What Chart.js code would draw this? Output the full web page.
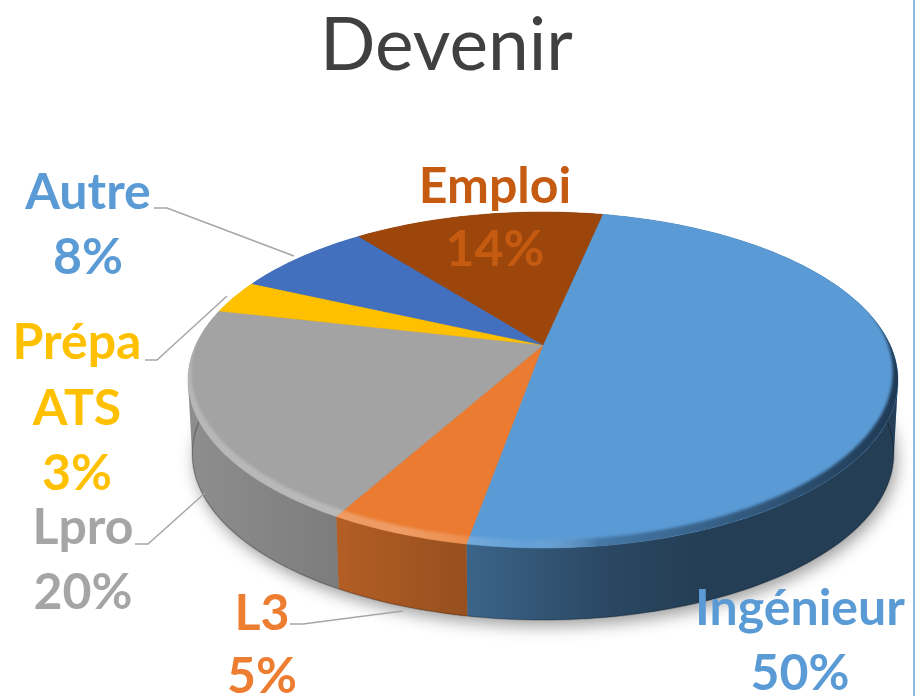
<!DOCTYPE html>
<html>
<head>
<meta charset="utf-8">
<title>Devenir</title>
<script src="https://cdn.jsdelivr.net/npm/chart.js@4"></script>
<style>
  html, body { margin: 0; padding: 0; background: #fff; }
  canvas { display: block; }
</style>
</head>
<body>
<canvas id="myChart" width="915" height="696"></canvas>
<script>
const titleText = 'Devenir'
const categories = ['Ingénieur', 'L3', 'Lpro', 'Prépa ATS', 'Autre', 'Emploi']
const shares = [49.5, 5.3, 20.45, 3.25, 7.6, 13.9]

const sliceColors = ['#5b9bd5', '#ea7b30', '#a3a3a3', '#ffc000', '#4270bf', '#9c460c']
const labelColors = ['#5b9bd5', '#ed7d31', '#a5a5a5', '#ffc000', '#5b9bd5', '#c55a11']

// where the data labels sit: centre x + one baseline per text line
const labelSpots = [
  { x: 800, lines: [625, 690] },
  { x: 262, lines: [630, 693] },
  { x: 83, lines: [544, 609] },
  { x: 77, lines: [359, 425, 490] },
  { x: 88, lines: [209, 274] },
  { x: 495, lines: [203, 266] }
]
const leaderLines = [
  [[154, 208], [167, 208], [294, 256]],
  [[145, 360], [157, 360], [227, 296]],
  [[135, 544], [148, 544], [205, 493]],
  [[290, 624], [303, 624], [403, 611]]
]

// perspective of the disc: apex of the slices, depth factor, half sizes
const apexX = 543, apexY = 345, persp = 0.2083, halfW = 347.2, halfH = 160.7
const rimCy = 380, baseCy = 454, baseScale = 0.988

function project(a, r) {
  const u = Math.cos(a) * r, v = -Math.sin(a) * r, w = 1 + persp * v
  return [apexX + halfW * u / w, apexY - halfH * v / w]
}
function toBase(p) {
  return [apexX + (p[0] - apexX) * baseScale, baseCy + (p[1] - rimCy) * baseScale]
}
function tracePoints(ctx, pts, start) {
  pts.forEach((p, i) => {
    if (i === 0 && start) ctx.moveTo(p[0], p[1])
    else ctx.lineTo(p[0], p[1])
  })
}
function arcPoints(a0, a1) {
  const n = Math.max(4, Math.ceil(Math.abs(a1 - a0) / 0.02))
  const pts = []
  for (let i = 0; i <= n; i++) pts.push(project(a0 + (a1 - a0) * i / n, 1))
  return pts
}
function fullRim() {
  return arcPoints(0, Math.PI * 2)
}
// all strips wound the same way, otherwise overlapping ones cancel at the tangents
function sameWinding(q) {
  let area = 0
  q.forEach((p, i) => {
    const n = q[(i + 1) % q.length]
    area += p[0] * n[1] - n[0] * p[1]
  })
  return area < 0 ? q.reverse() : q
}

const disc3d = {
  id: 'disc3d',
  beforeDatasetsDraw(chart) {
    const ctx = chart.ctx
    const arcs = chart.getDatasetMeta(0).data
    ctx.save()

    // soft shadow under the disc
    ctx.save()
    ctx.shadowColor = 'rgba(0,0,0,0.38)'
    ctx.shadowBlur = 16
    ctx.shadowOffsetX = 3
    ctx.shadowOffsetY = 6
    ctx.fillStyle = '#888'
    ctx.beginPath()
    tracePoints(ctx, fullRim().map(toBase), true)
    ctx.closePath()
    ctx.fill()
    ctx.restore()

    // side wall, one thin strip per rim step so the left and right tangents stay filled
    const shade = ctx.createLinearGradient(187, 0, 897, 0)
    shade.addColorStop(0, 'rgba(0,0,0,0.13)')
    shade.addColorStop(0.215, 'rgba(0,0,0,0.24)')
    shade.addColorStop(0.4, 'rgba(0,0,0,0.36)')
    shade.addColorStop(0.58, 'rgba(0,0,0,0.53)')
    shade.addColorStop(0.72, 'rgba(0,0,0,0.6)')
    shade.addColorStop(1, 'rgba(0,0,0,0.6)')
    arcs.forEach((arc, i) => {
      const top = arcPoints(arc.startAngle, arc.endAngle)
      ctx.beginPath()
      for (let k = 0; k < top.length - 1; k++) {
        tracePoints(ctx, sameWinding([top[k], top[k + 1], toBase(top[k + 1]), toBase(top[k])]), true)
        ctx.closePath()
      }
      ctx.fillStyle = sliceColors[i]
      ctx.fill()
      ctx.fillStyle = shade
      ctx.fill()
    })
    // darker lip at the foot of the wall, front half only
    ctx.beginPath()
    tracePoints(ctx, arcPoints(0, Math.PI).map(toBase), true)
    ctx.strokeStyle = 'rgba(0,0,0,0.22)'
    ctx.lineWidth = 1.5
    ctx.stroke()

    // top face
    arcs.forEach((arc, i) => {
      ctx.beginPath()
      ctx.moveTo(apexX, apexY)
      tracePoints(ctx, arcPoints(arc.startAngle, arc.endAngle), false)
      ctx.closePath()
      ctx.fillStyle = sliceColors[i]
      ctx.strokeStyle = sliceColors[i]
      ctx.lineWidth = 0.5
      ctx.fill()
      ctx.stroke()
    })

    // bevel along the front of the rim
    ctx.save()
    ctx.beginPath()
    tracePoints(ctx, fullRim(), true)
    ctx.closePath()
    ctx.clip()
    const bevel = ctx.createLinearGradient(187, 0, 897, 0)
    bevel.addColorStop(0, 'rgba(255,255,255,0.22)')
    bevel.addColorStop(0.3, 'rgba(255,255,255,0.26)')
    bevel.addColorStop(0.48, 'rgba(255,255,255,0.05)')
    bevel.addColorStop(0.58, 'rgba(20,40,60,0.3)')
    bevel.addColorStop(1, 'rgba(20,40,60,0.85)')
    ctx.filter = 'blur(1.6px)'
    ctx.beginPath()
    tracePoints(ctx, fullRim().map(p => [p[0] - (p[0] - apexX) * 0.012 - 1, p[1] - 8]), true)
    ctx.closePath()
    ctx.rect(100, 150, 900, 500)
    ctx.fillStyle = bevel
    ctx.fill('evenodd')
    ctx.restore()

    ctx.restore()
    return false
  },
  afterDraw(chart) {
    const ctx = chart.ctx
    ctx.save()

    leaderLines.forEach(line => {
      ctx.beginPath()
      tracePoints(ctx, line, true)
      ctx.strokeStyle = '#a6a6a6'
      ctx.lineWidth = 1.5
      ctx.stroke()
    })

    ctx.font = 'bold 50px Lato'
    ctx.textAlign = 'center'
    ctx.textBaseline = 'alphabetic'
    categories.forEach((name, i) => {
      const spot = labelSpots[i]
      const rows = name.split(' ').concat(Math.round(shares[i]) + '%')
      ctx.fillStyle = labelColors[i]
      rows.forEach((row, k) => ctx.fillText(row, spot.x, spot.lines[k]))
    })

    // thin frame line on the right of the picture
    ctx.fillStyle = '#8db9e3'
    ctx.fillRect(913, 0, 2, 696)
    ctx.restore()
  }
}

let myChart = new Chart(document.getElementById('myChart'), {
  type: 'pie',
  data: {
    labels: categories,
    datasets: [{
      label: titleText,
      data: shares,
      backgroundColor: sliceColors,
      borderWidth: 0
    }]
  },
  options: {
    responsive: false,
    animation: false,
    rotation: 11.9,
    layout: { padding: { right: 22 } },
    plugins: {
      legend: { display: false },
      tooltip: { enabled: false },
      title: {
        display: true,
        text: titleText,
        color: '#404040',
        font: { family: 'Lato', size: 73, weight: 'normal' },
        padding: { top: 3, bottom: 0 }
      }
    }
  },
  plugins: [disc3d]
})
</script>
</body>
</html>
